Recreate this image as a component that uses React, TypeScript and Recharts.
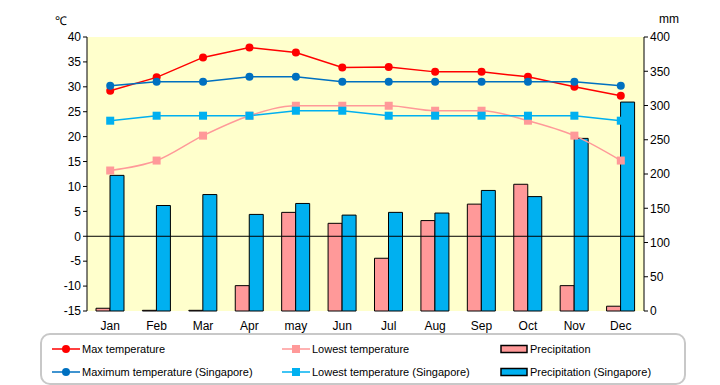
import React from "react";
import {
  ComposedChart,
  Bar,
  Line,
  XAxis,
  YAxis,
  CartesianGrid,
  ReferenceLine,
} from "recharts";

const months = ["Jan", "Feb", "Mar", "Apr", "may", "Jun", "Jul", "Aug", "Sep", "Oct", "Nov", "Dec"];
const maxTemp = [29.2, 31.9, 35.9, 37.9, 36.9, 33.9, 34, 33, 33, 32, 30, 28.2];
const minTemp = [13.2, 15.2, 20.2, 24.2, 26.2, 26.2, 26.2, 25.2, 25.2, 23.2, 20.2, 15.2];
const precip = [4, 1, 1, 37, 144, 128, 77, 132, 156, 185, 37, 7];
const sgMax = [30.2, 31, 31, 32, 32, 31, 31, 31, 31, 31, 31, 30.2];
const sgMin = [23.2, 24.2, 24.2, 24.2, 25.2, 25.2, 24.2, 24.2, 24.2, 24.2, 24.2, 23.2];
const sgPrecip = [198, 154, 170, 141, 157, 140, 144, 143, 176, 167, 252, 305];

const tempTicks = [-15, -10, -5, 0, 5, 10, 15, 20, 25, 30, 35, 40];
const rainTicks = [0, 50, 100, 150, 200, 250, 300, 350, 400];

const data = months.map((m, i) => ({
  month: m,
  maxTemp: maxTemp[i],
  minTemp: minTemp[i],
  precip: precip[i],
  sgMax: sgMax[i],
  sgMin: sgMin[i],
  sgPrecip: sgPrecip[i],
}));

const FONT = "'Liberation Sans', Arial, sans-serif";
const RED = "#ff0000";
const PINK = "#ff9999";
const BLUE = "#0070c0";
const CYAN = "#00b0f0";

const circleDot = (color: string) => (props: any) => (
  <circle key={props.index} cx={props.cx} cy={props.cy} r={4} fill={color} stroke="none" />
);
const squareDot = (color: string) => (props: any) => (
  <rect key={props.index} x={props.cx - 4} y={props.cy - 4} width={8} height={8} fill={color} stroke="none" />
);

const LineIcon = ({ color, square }: { color: string; square?: boolean }) => (
  <svg width={28} height={10} style={{ verticalAlign: "middle" }}>
    <line x1={0} y1={5} x2={28} y2={5} stroke={color} strokeWidth={1.5} />
    {square ? <rect x={10} y={1} width={8} height={8} fill={color} /> : <circle cx={14} cy={5} r={4} fill={color} />}
  </svg>
);

const BarIcon = ({ color }: { color: string }) => (
  <svg width={28} height={10} style={{ verticalAlign: "middle" }}>
    <rect x={1} y={1.5} width={26} height={7} fill={color} stroke="#000" strokeWidth={1.5} />
  </svg>
);

const legendItems = [
  { label: "Max temperature", icon: <LineIcon color={RED} />, x: 10, y: 6 },
  { label: "Lowest temperature", icon: <LineIcon color={PINK} square />, x: 240, y: 6 },
  { label: "Precipitation", icon: <BarIcon color={PINK} />, x: 458, y: 6 },
  { label: "Maximum temperature (Singapore)", icon: <LineIcon color={BLUE} />, x: 10, y: 29 },
  { label: "Lowest temperature (Singapore)", icon: <LineIcon color={CYAN} square />, x: 240, y: 29 },
  { label: "Precipitation (Singapore)", icon: <BarIcon color={CYAN} />, x: 458, y: 29 },
];

export default function App() {
  return (
    <div style={{ position: "absolute", left: 0, top: 0, width: 720, height: 385, background: "#fff", fontFamily: FONT }}>
      <div style={{ position: "absolute", left: 55, top: 12, fontSize: 12 }}>℃</div>
      <div style={{ position: "absolute", left: 659, top: 12, fontSize: 12 }}>mm</div>
      <ComposedChart
        width={720}
        height={385}
        data={data}
        margin={{ top: 37, right: 36, left: 47, bottom: 54 }}
        barGap={0}
      >
        <CartesianGrid horizontal={false} vertical={false} fill="#ffffcc" stroke="none" />
        <XAxis
          dataKey="month"
          axisLine={false}
          tickLine={false}
          height={20}
          interval={0}
          tick={{ fontSize: 12, fill: "#000", fontFamily: FONT }}
          tickMargin={4}
        />
        <YAxis
          yAxisId="temp"
          domain={[-15, 40]}
          ticks={tempTicks}
          interval={0}
          width={40}
          axisLine={{ stroke: "#000" }}
          tickLine={{ stroke: "#000" }}
          tickSize={4}
          tick={{ fontSize: 12, fill: "#000", fontFamily: FONT }}
        />
        <YAxis
          yAxisId="rain"
          orientation="right"
          domain={[0, 400]}
          ticks={rainTicks}
          interval={0}
          width={40}
          axisLine={{ stroke: "#000" }}
          tickLine={{ stroke: "#000" }}
          tickSize={4}
          tick={{ fontSize: 12, fill: "#000", fontFamily: FONT }}
        />
        <Bar yAxisId="rain" dataKey="precip" barSize={14} fill={PINK} stroke="#000" strokeWidth={1} isAnimationActive={false} />
        <Bar yAxisId="rain" dataKey="sgPrecip" barSize={14} fill={CYAN} stroke="#000" strokeWidth={1} isAnimationActive={false} />
        <ReferenceLine yAxisId="temp" y={0} stroke="#000" strokeWidth={1} />
        <Line yAxisId="temp" type="monotone" dataKey="minTemp" stroke={PINK} strokeWidth={1.5} dot={squareDot(PINK)} isAnimationActive={false} />
        <Line yAxisId="temp" type="linear" dataKey="maxTemp" stroke={RED} strokeWidth={1.5} dot={circleDot(RED)} isAnimationActive={false} />
        <Line yAxisId="temp" type="linear" dataKey="sgMin" stroke={CYAN} strokeWidth={1.5} dot={squareDot(CYAN)} isAnimationActive={false} />
        <Line yAxisId="temp" type="linear" dataKey="sgMax" stroke={BLUE} strokeWidth={1.5} dot={circleDot(BLUE)} isAnimationActive={false} />
      </ComposedChart>
      <div
        style={{
          position: "absolute",
          left: 40,
          top: 333,
          width: 642,
          height: 48,
          border: "2px solid #c8c8c8",
          borderRadius: 10,
        }}
      >
        {legendItems.map((it) => (
          <div
            key={it.label}
            style={{ position: "absolute", left: it.x, top: it.y, fontSize: 11, whiteSpace: "nowrap", lineHeight: "14px" }}
          >
            {it.icon}
            <span style={{ marginLeft: 2, verticalAlign: "middle" }}>{it.label}</span>
          </div>
        ))}
      </div>
    </div>
  );
}
